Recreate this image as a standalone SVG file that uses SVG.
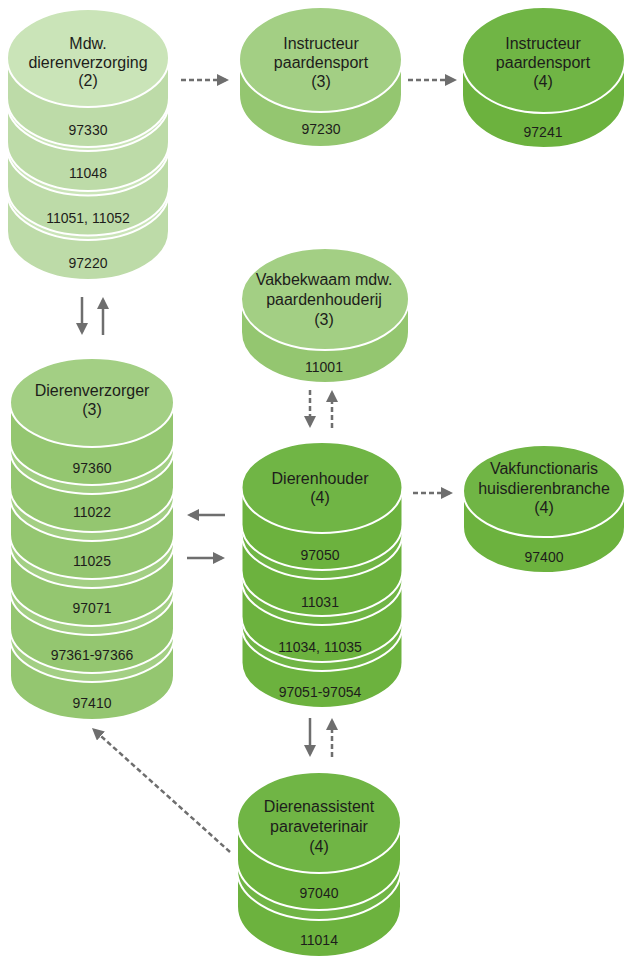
<svg xmlns="http://www.w3.org/2000/svg" width="625" height="959" viewBox="0 0 625 959">
  <style>
    .face, .side { stroke: #ffffff; stroke-width: 2; }
    .l2 .face { fill: #cae4b8; }
    .l2 .side { fill: #bddba8; }
    .l3 .face { fill: #a3cf84; }
    .l3 .side { fill: #94c670; }
    .l4 .face { fill: #70b545; }
    .l4 .side { fill: #6cb23e; }
    text { font-family: "Liberation Sans", Arial, sans-serif; fill: #1d1d1b; text-anchor: middle; }
    .t { font-size: 16px; }
    .n { font-size: 14px; }
    .arrow { stroke: #6e6e6e; stroke-width: 2.5; fill: none; marker-end: url(#head); }
    .dash { stroke-dasharray: 5 3; }
  </style>
  <defs>
    <marker id="head" markerUnits="userSpaceOnUse" viewBox="0 0 12 12" markerWidth="12" markerHeight="12" refX="9" refY="6" orient="auto">
      <path d="M0,0 L12,6 L0,12 Z" fill="#6e6e6e"/>
    </marker>
  </defs>

  <!-- Mdw. dierenverzorging (2) -->
  <g id="mdw-dierenverzorging" class="l2">
    <path class="side" d="M7,191 V231 A81,49 0 0 0 169,231 V191 Z"/>
    <ellipse class="face" cx="88" cy="191" rx="81" ry="49"/>
    <path class="side" d="M7,146.5 V186.5 A81,49 0 0 0 169,186.5 V146.5 Z"/>
    <ellipse class="face" cx="88" cy="146.5" rx="81" ry="49"/>
    <path class="side" d="M7,102 V142 A81,49 0 0 0 169,142 V102 Z"/>
    <ellipse class="face" cx="88" cy="102" rx="81" ry="49"/>
    <path class="side" d="M7,58 V98 A81,49 0 0 0 169,98 V58 Z"/>
    <ellipse class="face" cx="88" cy="58" rx="81" ry="49"/>
    <text class="t" x="88" y="49">Mdw.</text>
    <text class="t" x="88" y="67.5">dierenverzorging</text>
    <text class="t" x="88" y="86">(2)</text>
    <text class="n" x="88" y="135">97330</text>
    <text class="n" x="88" y="178">11048</text>
    <text class="n" x="88" y="223">11051, 11052</text>
    <text class="n" x="88" y="268">97220</text>
  </g>

  <!-- Instructeur paardensport (3) -->
  <g id="instructeur-3" class="l3">
    <path class="side" d="M239,59.5 V94.5 A81.5,52.5 0 0 0 402,94.5 V59.5 Z"/>
    <ellipse class="face" cx="320.5" cy="59.5" rx="81.5" ry="52.5"/>
    <text class="t" x="321" y="49">Instructeur</text>
    <text class="t" x="321" y="67.5">paardensport</text>
    <text class="t" x="321" y="87">(3)</text>
    <text class="n" x="321" y="134">97230</text>
  </g>

  <!-- Instructeur paardensport (4) -->
  <g id="instructeur-4" class="l4">
    <path class="side" d="M462,60 V95 A81.5,53 0 0 0 625,95 V60 Z"/>
    <ellipse class="face" cx="543.5" cy="60" rx="81.5" ry="53"/>
    <text class="t" x="543" y="49">Instructeur</text>
    <text class="t" x="543" y="67.5">paardensport</text>
    <text class="t" x="543" y="87">(4)</text>
    <text class="n" x="543" y="137">97241</text>
  </g>

  <!-- Vakbekwaam mdw. paardenhouderij (3) -->
  <g id="vakbekwaam" class="l3">
    <path class="side" d="M241,299 V332 A84,51 0 0 0 409,332 V299 Z"/>
    <ellipse class="face" cx="325" cy="299" rx="84" ry="51"/>
    <text class="t" x="324" y="285">Vakbekwaam mdw.</text>
    <text class="t" x="324" y="305">paardenhouderij</text>
    <text class="t" x="324" y="325">(3)</text>
    <text class="n" x="324" y="372">11001</text>
  </g>

  <!-- Dierenverzorger (3) -->
  <g id="dierenverzorger" class="l3">
    <path class="side" d="M10,637.5 V675.5 A82,44.5 0 0 0 174,675.5 V637.5 Z"/>
    <ellipse class="face" cx="92" cy="637.5" rx="82" ry="44.5"/>
    <path class="side" d="M10,590.5 V628.5 A82,44.5 0 0 0 174,628.5 V590.5 Z"/>
    <ellipse class="face" cx="92" cy="590.5" rx="82" ry="44.5"/>
    <path class="side" d="M10,543.5 V581.5 A82,44.5 0 0 0 174,581.5 V543.5 Z"/>
    <ellipse class="face" cx="92" cy="543.5" rx="82" ry="44.5"/>
    <path class="side" d="M10,496.5 V534.5 A82,44.5 0 0 0 174,534.5 V496.5 Z"/>
    <ellipse class="face" cx="92" cy="496.5" rx="82" ry="44.5"/>
    <path class="side" d="M10,449.5 V487.5 A82,44.5 0 0 0 174,487.5 V449.5 Z"/>
    <ellipse class="face" cx="92" cy="449.5" rx="82" ry="44.5"/>
    <path class="side" d="M10,402.5 V440.5 A82,44.5 0 0 0 174,440.5 V402.5 Z"/>
    <ellipse class="face" cx="92" cy="402.5" rx="82" ry="44.5"/>
    <text class="t" x="92" y="396">Dierenverzorger</text>
    <text class="t" x="92" y="415">(3)</text>
    <text class="n" x="92" y="473">97360</text>
    <text class="n" x="92" y="517">11022</text>
    <text class="n" x="92" y="566">11025</text>
    <text class="n" x="92" y="613">97071</text>
    <text class="n" x="92" y="660">97361-97366</text>
    <text class="n" x="92" y="708">97410</text>
  </g>

  <!-- Dierenhouder (4) -->
  <g id="dierenhouder" class="l4">
    <path class="side" d="M241.5,625.5 V662.5 A80.5,45.5 0 0 0 402.5,662.5 V625.5 Z"/>
    <ellipse class="face" cx="322" cy="625.5" rx="80.5" ry="45.5"/>
    <path class="side" d="M241.5,579.5 V616.5 A80.5,45.5 0 0 0 402.5,616.5 V579.5 Z"/>
    <ellipse class="face" cx="322" cy="579.5" rx="80.5" ry="45.5"/>
    <path class="side" d="M241.5,533.5 V570.5 A80.5,45.5 0 0 0 402.5,570.5 V533.5 Z"/>
    <ellipse class="face" cx="322" cy="533.5" rx="80.5" ry="45.5"/>
    <path class="side" d="M241.5,487.5 V524.5 A80.5,45.5 0 0 0 402.5,524.5 V487.5 Z"/>
    <ellipse class="face" cx="322" cy="487.5" rx="80.5" ry="45.5"/>
    <text class="t" x="320" y="484">Dierenhouder</text>
    <text class="t" x="320" y="503">(4)</text>
    <text class="n" x="320" y="560">97050</text>
    <text class="n" x="320" y="607">11031</text>
    <text class="n" x="320" y="652">11034, 11035</text>
    <text class="n" x="320" y="697">97051-97054</text>
  </g>

  <!-- Vakfunctionaris huisdierenbranche (4) -->
  <g id="vakfunctionaris" class="l4">
    <path class="side" d="M463,491 V527 A81,46 0 0 0 625,527 V491 Z"/>
    <ellipse class="face" cx="544" cy="491" rx="81" ry="46"/>
    <text class="t" x="544" y="474">Vakfunctionaris</text>
    <text class="t" x="544" y="494">huisdierenbranche</text>
    <text class="t" x="544" y="513">(4)</text>
    <text class="n" x="544" y="562">97400</text>
  </g>

  <!-- Dierenassistent paraveterinair (4) -->
  <g id="dierenassistent" class="l4">
    <path class="side" d="M237,869.5 V906.5 A82,50.5 0 0 0 401,906.5 V869.5 Z"/>
    <ellipse class="face" cx="319" cy="869.5" rx="82" ry="50.5"/>
    <path class="side" d="M237,822.5 V859.5 A82,50.5 0 0 0 401,859.5 V822.5 Z"/>
    <ellipse class="face" cx="319" cy="822.5" rx="82" ry="50.5"/>
    <text class="t" x="319" y="812">Dierenassistent</text>
    <text class="t" x="319" y="832">paraveterinair</text>
    <text class="t" x="319" y="852">(4)</text>
    <text class="n" x="319" y="898">97040</text>
    <text class="n" x="319" y="945">11014</text>
  </g>

  <!-- connectors -->
  <g id="connectors">
    <line class="arrow dash" x1="181" y1="80" x2="226" y2="80"/>
    <line class="arrow dash" x1="408" y1="80" x2="454" y2="80"/>
    <line class="arrow" x1="82" y1="297" x2="82" y2="332"/>
    <line class="arrow" x1="103" y1="335" x2="103" y2="300"/>
    <line class="arrow dash" x1="310" y1="390" x2="310" y2="425"/>
    <line class="arrow dash" x1="332" y1="428" x2="332" y2="393"/>
    <line class="arrow" x1="225" y1="515" x2="190" y2="515"/>
    <line class="arrow" x1="187" y1="558" x2="222" y2="558"/>
    <line class="arrow dash" x1="413" y1="493" x2="450" y2="493"/>
    <line class="arrow" x1="310" y1="718" x2="310" y2="754"/>
    <line class="arrow dash" x1="332" y1="757" x2="332" y2="721"/>
    <line class="arrow dash" x1="230" y1="852" x2="94.2" y2="730"/>
  </g>
</svg>
